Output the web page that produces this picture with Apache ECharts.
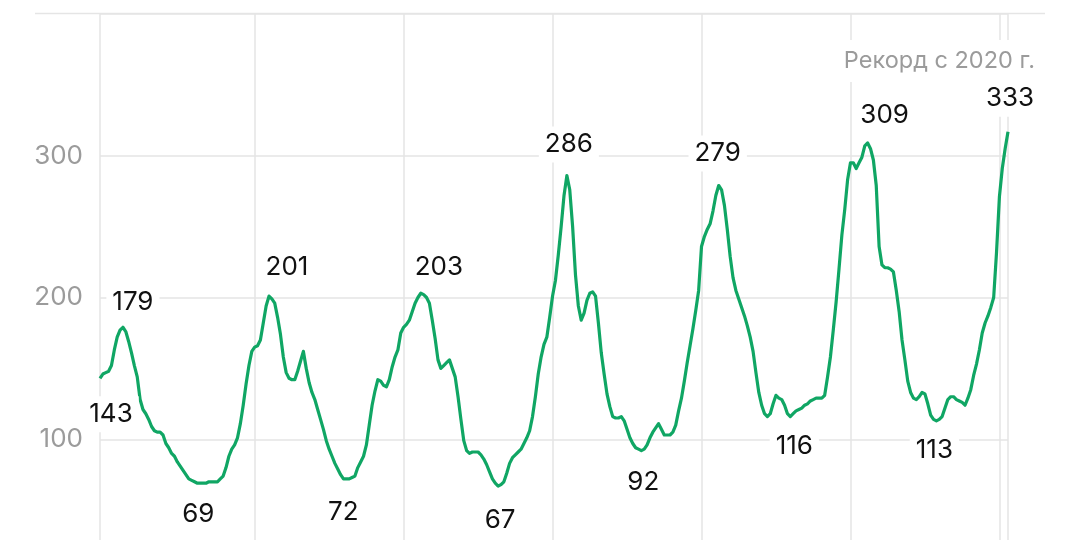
<!DOCTYPE html>
<html>
<head>
<meta charset="utf-8">
<script src="https://cdn.jsdelivr.net/npm/echarts@6/dist/echarts.min.js"></script>
<style>
  html, body { margin: 0; padding: 0; background: #fff; }
  #chart { width: 1080px; height: 540px; }
</style>
</head>
<body>
<div id="chart"></div>
<script>
// недельные значения, читаются с картинки
const values = [
  143,146,147,148,152,163,172,177,179,176,
  169,161,152,144,128,121,118,114,109,106,
  105,105,103,97,94,90,88,84,81,78,
  75,72,71,70,69,69,69,69,70,70,
  70,70,72,74,80,88,93,96,101,111,
  124,139,152,162,165,166,170,182,194,201,
  199,196,186,174,158,147,143,142,142,148,
  155,162,150,140,133,128,121,114,107,99,
  93,88,83,79,75,72,72,72,73,74,
  80,84,88,96,110,124,134,142,141,138,
  137,142,151,158,163,175,179,181,184,190,
  196,200,203,202,200,196,184,171,156,150,
  152,154,156,150,144,130,114,99,92,90,
  91,91,91,89,86,82,77,72,69,67,
  68,70,76,83,87,89,91,93,97,101,
  106,116,130,146,158,167,172,186,201,212,
  230,250,272,286,276,250,216,194,184,189,
  198,203,204,201,182,161,146,132,123,116,
  115,115,116,113,107,101,97,94,93,92,
  93,96,101,105,108,111,107,103,103,103,
  105,110,120,129,141,154,166,178,191,205,
  236,243,248,252,261,272,279,276,265,248,
  229,214,205,199,193,187,180,172,162,147,
  133,124,118,116,118,125,131,129,128,124,
  118,116,118,120,121,122,124,125,127,128,
  129,129,129,131,144,158,177,197,220,244,
  262,283,295,295,291,295,299,307,309,305,
  297,279,236,223,221,221,220,218,205,190,
  170,156,141,133,129,128,130,133,132,125,
  117,114,113,114,116,122,128,130,130,128,
  127,126,124,129,135,145,153,163,175,182,
  187,193,200,232,271,291,305,317
];
const weeks = values.map((v, i) => String(i));

// вертикальные линии: начало ряда, начало каждого года, последняя неделя
const yearLines = [0, 54, 106, 158, 210, 262, 314, 317];

// подписанные точки и их текст
const labelIdx = [0, 8, 35, 59, 86, 112, 139, 163, 189, 216, 241, 268, 292, 317];
const labelText = ['143', '179', '69', '201', '72', '203', '67', '286', '92', '279', '116', '309', '113', '333'];

const recordNote = 'Рекорд с 2020 г.';

// смещения подписей от точки (px)
const labelOffset = [
  [11, 36], [10, -25], [-2, 31], [18, -29], [-3, 33], [18, -26], [2, 34],
  [2, -31], [2, 32], [-1, -32], [4, 30], [17, -28], [-2, 29], [2, -33]
];

const green = '#10a664';
const gridColor = '#e5e5e5';

var myChart = echarts.init(document.getElementById('chart'));
let option = {
  animation: false,
  grid: { left: 100, top: 14, width: 908, height: 567, outerBoundsMode: 'none', containLabel: false },
  xAxis: {
    type: 'category',
    data: weeks,
    boundaryGap: false,
    axisLine: { show: false },
    axisTick: { show: false },
    axisLabel: { show: false },
    splitLine: {
      show: true,
      interval: (i) => yearLines.includes(i),
      lineStyle: { color: gridColor, width: 1.5 }
    }
  },
  yAxis: {
    type: 'value',
    min: 0,
    max: 400,
    interval: 100,
    axisLine: { show: false },
    axisTick: { show: false },
    axisLabel: {
      margin: 17,
      color: '#9b9b9b',
      fontSize: 26,
      fontFamily: 'Inter',
      formatter: (v) => (v === 0 || v === 400) ? '' : String(v)
    },
    splitLine: { lineStyle: { color: gridColor, width: 1.5 } }
  },
  series: [
    {
      type: 'line',
      data: values,
      showSymbol: false,
      lineStyle: { color: green, width: 3.2, join: 'round' },
      itemStyle: { color: green },
      markPoint: {
        symbol: 'circle',
        symbolSize: 1,
        itemStyle: { color: 'rgba(0,0,0,0)' },
        silent: true,
        data: labelIdx.map((idx, k) => ({
          coord: [idx, values[idx]],
          label: {
            show: true,
            position: 'inside',
            formatter: labelText[k],
            offset: labelOffset[k],
            color: '#111',
            fontSize: 26,
            fontFamily: 'Inter',
            backgroundColor: '#fff',
            padding: [5, 6]
          }
        }))
      }
    }
  ],
  graphic: [
    {
      type: 'line',
      z: 1,
      shape: { x1: 35, y1: 13.5, x2: 1045, y2: 13.5 },
      style: { stroke: gridColor, lineWidth: 1.5 }
    },
    {
      type: 'text',
      z: 100,
      x: 1039,
      y: 61,
      style: {
        text: recordNote,
        align: 'right',
        verticalAlign: 'middle',
        font: '23.5px Inter',
        fill: '#9b9b9b',
        backgroundColor: '#fff',
        padding: [12, 4, 6, 4]
      }
    }
  ]
};
myChart.setOption(option);
</script>
</body>
</html>
